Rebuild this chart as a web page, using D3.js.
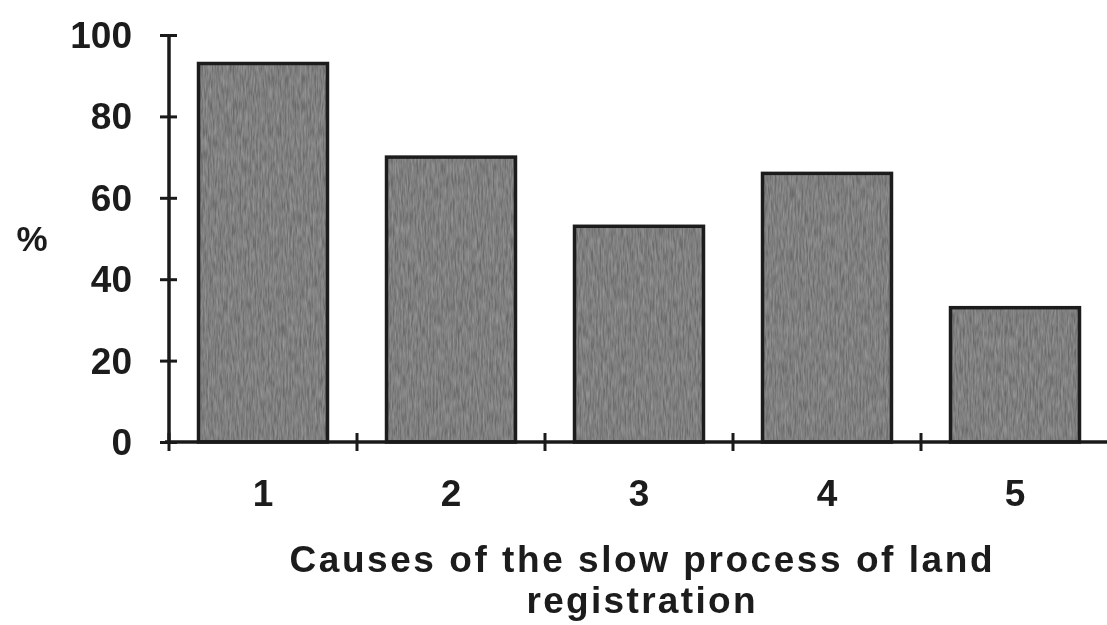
<!DOCTYPE html>
<html>
<head>
<meta charset="utf-8">
<script src="https://cdn.jsdelivr.net/npm/d3@7"></script>
<style>
  html, body { margin: 0; padding: 0; background: #fff; }
  svg { display: block; }
  text { font-family: "Liberation Sans", Arial, sans-serif; fill: #1a1a1a; }
</style>
</head>
<body>
<svg id="chart" width="1107" height="625"></svg>
<script>
// Categories and percentages for the bar chart
const categories = ["1", "2", "3", "4", "5"];
const percentValues = [93, 70, 53, 66, 33];
const yTickValues = [0, 20, 40, 60, 80, 100];
const yAxisLabel = "%";
const xTitleLines = ["Causes of the slow process of land", "registration"];

const svg = d3.select("#chart");

// Plot area
const x0 = 169, x1 = 1109, yBottom = 442, yTop = 35;

const x = d3.scaleBand()
  .domain(categories)
  .range([x0, x1])
  .paddingInner(0.314)
  .paddingOuter(0.157);

const y = d3.scaleLinear().domain([0, 100]).range([yBottom, yTop]);

// Grainy fill for the bars
const defs = svg.append("defs");
const grain = defs.append("filter").attr("id", "grain")
  .attr("x", 0).attr("y", 0).attr("width", 1).attr("height", 1);
grain.append("feTurbulence")
  .attr("type", "fractalNoise")
  .attr("baseFrequency", "0.6 0.08")
  .attr("numOctaves", 2)
  .attr("seed", 3)
  .attr("result", "noise");
grain.append("feColorMatrix")
  .attr("in", "noise")
  .attr("type", "matrix")
  .attr("values", "0 0 0 0 0.42  0 0 0 0 0.42  0 0 0 0 0.42  0.9 0 0 0 -0.2")
  .attr("result", "tint");
grain.append("feComposite").attr("in", "tint").attr("in2", "SourceGraphic").attr("operator", "in").attr("result", "tinted");
grain.append("feMerge").selectAll("feMergeNode")
  .data(["SourceGraphic", "tinted"]).join("feMergeNode").attr("in", d => d);

const soft = defs.append("filter").attr("id", "soft");
soft.append("feGaussianBlur").attr("stdDeviation", 0.6);

// Bars
const bars = svg.append("g");
bars.selectAll("rect.fill")
  .data(percentValues)
  .join("rect")
  .attr("class", "fill")
  .attr("x", (d, i) => x(categories[i]))
  .attr("y", d => y(d))
  .attr("width", x.bandwidth())
  .attr("height", d => y(0) - y(d))
  .attr("fill", "#6a6a6a")
  .attr("filter", "url(#grain)");
bars.selectAll("rect.edge")
  .data(percentValues)
  .join("rect")
  .attr("class", "edge")
  .attr("x", (d, i) => x(categories[i]))
  .attr("y", d => y(d))
  .attr("width", x.bandwidth())
  .attr("height", d => y(0) - y(d))
  .attr("fill", "none")
  .attr("stroke", "#1c1c1c")
  .attr("stroke-width", 3.5);

// Y axis with ticks crossing the line
const yAxis = svg.append("g").attr("transform", `translate(${x0},0)`)
  .call(d3.axisLeft(y).tickValues(yTickValues).tickSize(0).tickPadding(37))
  .call(g => g.select(".domain").remove());
yAxis.append("line")
  .attr("x1", 0).attr("x2", 0).attr("y1", y(100)).attr("y2", y(0))
  .attr("stroke", "#1a1a1a").attr("stroke-width", 3.5);
yAxis.selectAll(".tick").append("line")
  .attr("x1", -9).attr("x2", 8)
  .attr("stroke", "#1a1a1a").attr("stroke-width", 3);
yAxis.selectAll(".tick text")
  .attr("font-size", 37).attr("font-weight", "bold")
  .attr("fill", "#1a1a1a")
  .attr("dy", "0.34em")
  .attr("filter", "url(#soft)");

// X axis: baseline with ticks between categories
const xAxis = svg.append("g");
xAxis.append("line")
  .attr("x1", x0 - 4).attr("x2", 1107).attr("y1", y(0)).attr("y2", y(0))
  .attr("stroke", "#1a1a1a").attr("stroke-width", 3.5);
const boundaries = categories.slice(1).map(c => x(c) - x.step() * x.paddingInner() / 2);
boundaries.unshift(x0);
xAxis.selectAll("line.tick")
  .data(boundaries)
  .join("line")
  .attr("class", "tick")
  .attr("x1", d => d).attr("x2", d => d)
  .attr("y1", y(0) - 9).attr("y2", y(0) + 9)
  .attr("stroke", "#1a1a1a").attr("stroke-width", 3);
xAxis.selectAll("text")
  .data(categories)
  .join("text")
  .attr("x", d => x(d) + x.bandwidth() / 2)
  .attr("y", 506)
  .attr("text-anchor", "middle")
  .attr("font-size", 37).attr("font-weight", "bold")
  .attr("filter", "url(#soft)")
  .text(d => d);

// Axis titles
svg.append("text")
  .attr("x", 32).attr("y", 251)
  .attr("text-anchor", "middle")
  .attr("font-size", 35).attr("font-weight", "bold")
  .attr("filter", "url(#soft)")
  .text(yAxisLabel);

svg.append("g").selectAll("text")
  .data(xTitleLines)
  .join("text")
  .attr("x", 641)
  .attr("y", (d, i) => 572 + i * 41)
  .attr("text-anchor", "middle")
  .attr("font-size", 37).attr("font-weight", "bold")
  .attr("textLength", (d, i) => i === 0 ? 703 : 229)
  .attr("lengthAdjust", "spacing")
  .attr("filter", "url(#soft)")
  .text(d => d);
</script>
</body>
</html>
